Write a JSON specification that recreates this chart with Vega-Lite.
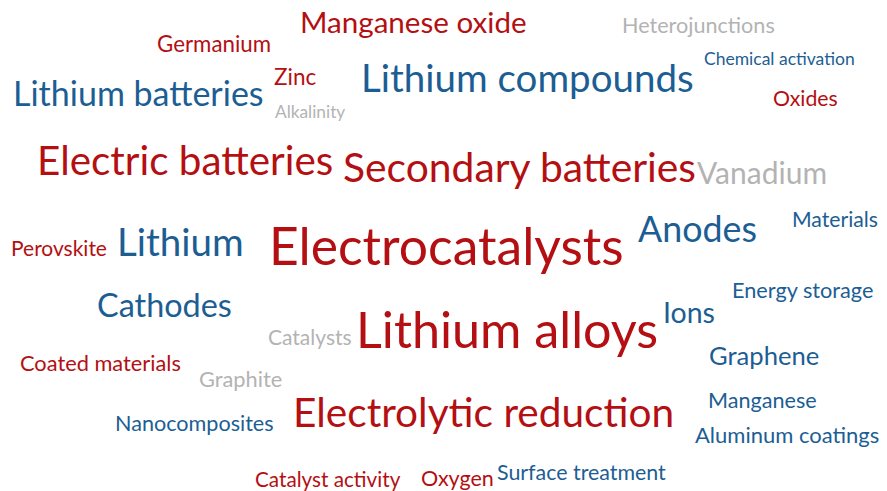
{
  "$schema": "https://vega.github.io/schema/vega-lite/v6.json",
  "width": 887,
  "height": 491,
  "autosize": {"type": "fit", "contains": "padding"},
  "padding": 0,
  "background": "#ffffff",
  "config": {"view": {"stroke": null}},
  "data": {
    "values": [
      {"term": "Manganese oxide", "x": 300, "y": 33, "weight": 29.6, "group": "red"},
      {"term": "Germanium", "x": 157, "y": 52, "weight": 22.3, "group": "red"},
      {"term": "Heterojunctions", "x": 622, "y": 33, "weight": 21.6, "group": "grey"},
      {"term": "Chemical activation", "x": 704, "y": 65, "weight": 17.5, "group": "blue"},
      {"term": "Zinc", "x": 274, "y": 85, "weight": 22.5, "group": "red"},
      {"term": "Lithium compounds", "x": 361, "y": 92, "weight": 38.5, "group": "blue"},
      {"term": "Lithium batteries", "x": 13, "y": 106, "weight": 34, "group": "blue"},
      {"term": "Alkalinity", "x": 275, "y": 118, "weight": 17.3, "group": "grey"},
      {"term": "Oxides", "x": 773, "y": 106, "weight": 21.3, "group": "red"},
      {"term": "Electric batteries", "x": 37, "y": 175, "weight": 40.4, "group": "red"},
      {"term": "Secondary batteries", "x": 343, "y": 182, "weight": 40.8, "group": "red"},
      {"term": "Vanadium", "x": 697, "y": 184, "weight": 30, "group": "grey"},
      {"term": "Materials", "x": 792, "y": 227, "weight": 21.2, "group": "blue"},
      {"term": "Perovskite", "x": 11, "y": 256, "weight": 21, "group": "red"},
      {"term": "Lithium", "x": 117, "y": 256, "weight": 38.5, "group": "blue"},
      {"term": "Electrocatalysts", "x": 269, "y": 265, "weight": 51.6, "group": "red"},
      {"term": "Anodes", "x": 638, "y": 242, "weight": 35.8, "group": "blue"},
      {"term": "Energy storage", "x": 732, "y": 298, "weight": 21.7, "group": "blue"},
      {"term": "Cathodes", "x": 97, "y": 317, "weight": 32.4, "group": "blue"},
      {"term": "Ions", "x": 663, "y": 323, "weight": 28.5, "group": "blue"},
      {"term": "Catalysts", "x": 268, "y": 345, "weight": 21, "group": "grey"},
      {"term": "Lithium alloys", "x": 356, "y": 348, "weight": 50.3, "group": "red"},
      {"term": "Coated materials", "x": 20, "y": 371, "weight": 21.8, "group": "red"},
      {"term": "Graphene", "x": 709, "y": 365, "weight": 25.6, "group": "blue"},
      {"term": "Graphite", "x": 199, "y": 387, "weight": 21.8, "group": "grey"},
      {"term": "Manganese", "x": 708, "y": 408, "weight": 21.6, "group": "blue"},
      {"term": "Nanocomposites", "x": 115, "y": 431, "weight": 21.6, "group": "blue"},
      {"term": "Electrolytic reduction", "x": 293, "y": 427, "weight": 40.6, "group": "red"},
      {"term": "Aluminum coatings", "x": 695, "y": 443, "weight": 22, "group": "blue"},
      {"term": "Catalyst activity", "x": 255, "y": 487, "weight": 20.7, "group": "red"},
      {"term": "Oxygen", "x": 421, "y": 486, "weight": 21.5, "group": "red"},
      {"term": "Surface treatment", "x": 497, "y": 480, "weight": 21.4, "group": "blue"}
    ]
  },
  "mark": {"type": "text", "align": "left", "baseline": "alphabetic", "font": "Lato"},
  "encoding": {
    "x": {"field": "x", "type": "quantitative", "scale": {"domain": [0, 887], "nice": false, "zero": false}, "axis": null},
    "y": {"field": "y", "type": "quantitative", "scale": {"domain": [0, 491], "nice": false, "zero": false, "reverse": true}, "axis": null},
    "size": {"field": "weight", "type": "quantitative", "scale": {"type": "linear", "domain": [0, 50], "range": [0, 50], "zero": true}, "legend": null},
    "color": {"field": "group", "type": "nominal", "scale": {"domain": ["red", "blue", "grey"], "range": ["#b40f12", "#1c5e93", "#b3b3b3"]}, "legend": null},
    "text": {"field": "term", "type": "nominal"}
  }
}
